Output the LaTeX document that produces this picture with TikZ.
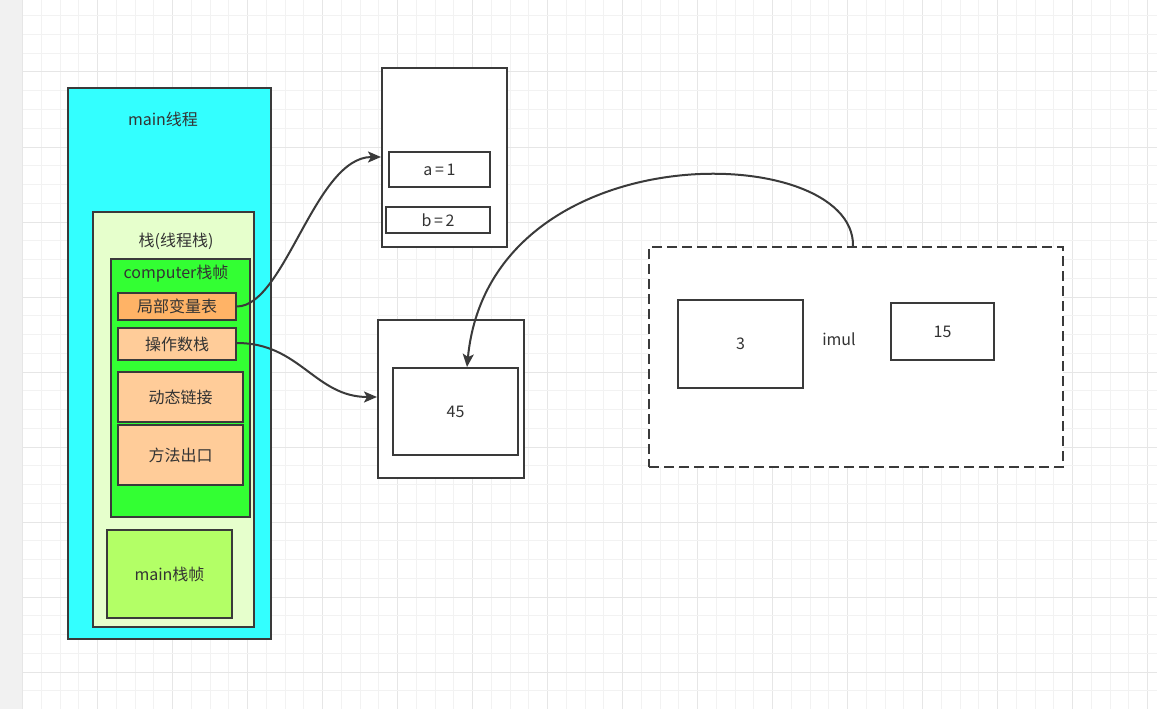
\documentclass[tikz,border=0pt]{standalone}
\usepackage{fontspec}
\setmainfont{Noto Sans CJK SC}
\usetikzlibrary{arrows.meta}
\definecolor{edge}{HTML}{3A3A3A}
\definecolor{txt}{HTML}{333333}
\definecolor{cyanf}{HTML}{33FFFF}
\definecolor{stackf}{HTML}{E6FFCC}
\definecolor{framef}{HTML}{33FF33}
\definecolor{lvf}{HTML}{FFB366}
\definecolor{oranf}{HTML}{FFCC99}
\definecolor{mainf}{HTML}{B3FF66}
\definecolor{gridmin}{HTML}{F2F2F2}
\definecolor{gridmaj}{HTML}{E6E6E6}
\definecolor{strip}{HTML}{F1F1F1}
\tikzset{
  x=1pt, y=-1pt,
  box/.style={draw=edge, line width=2pt, anchor=north west, inner sep=0pt, text=txt,
    font=\fontsize{16}{18}\selectfont},
  lbl/.style={text=txt, inner sep=0pt, font=\fontsize{16}{18}\selectfont},
  arr/.style={draw=edge, line width=2pt, -{Stealth[length=13pt,width=11pt,inset=3pt]}},
  gmin/.style={draw=gridmin, line width=1pt},
  gmaj/.style={draw=gridmaj, line width=1pt},
}
\newcommand{\bx}[6]{\node[box,#1,minimum width=#4pt,minimum height=#5pt] (#2) at (#3) {#6};}
\begin{document}
\begin{tikzpicture}
\useasboundingbox (0,0) rectangle (1157,709);
\fill[white] (0,0) rectangle (1157,709);
\fill[strip] (0,0) rectangle (22.7,709);
% grid
\foreach \i in {1,...,61} {
  \pgfmathtruncatemacro{\m}{mod(\i,4)}
  \ifnum\m=0 \draw[gmaj] ({22.7+18.75*\i},0) -- ({22.7+18.75*\i},709);
  \else \draw[gmin] ({22.7+18.75*\i},0) -- ({22.7+18.75*\i},709); \fi
}
\draw[gmaj] (22.7,0) -- (22.7,709);
\foreach \i in {1,...,38} {
  \pgfmathtruncatemacro{\m}{mod(\i,4)}
  \ifnum\m=0 \draw[gmaj] (22.7,{-3+18.75*\i}) -- (1157,{-3+18.75*\i});
  \else \draw[gmin] (22.7,{-3+18.75*\i}) -- (1157,{-3+18.75*\i}); \fi
}
% left column
\bx{fill=cyanf}{mainth}{67,87}{203}{551}{}
\node[lbl] (mainthl) at (163,119) {main线程};
\bx{fill=stackf}{stack}{92,211}{161}{415}{}
\node[lbl] (stackl) at (176,241) {栈(线程栈)};
\bx{fill=framef}{comp}{110,258}{139}{258}{}
\node[lbl] (compl) at (176,274) {computer栈帧};
\bx{fill=lvf}{lv}{117,292}{118}{27}{局部变量表}
\bx{fill=oranf}{ops}{117,327}{118}{32}{操作数栈}
\bx{fill=oranf}{dyn}{117,371}{125}{50}{动态链接}
\bx{fill=oranf}{ret}{117,424}{125}{60}{方法出口}
\bx{fill=mainf}{mframe}{106,529}{125}{88}{main栈帧}
% middle
\bx{fill=white}{vars}{381,67}{125}{179}{}
\bx{fill=white}{a}{388,151}{101}{35}{a\,=\,1}
\bx{fill=white}{b}{385,206}{104}{26}{b\,=\,2}
\bx{fill=white}{opst}{377,319}{146}{158}{}
\bx{fill=white}{v45}{392,367}{125}{87}{45}
% right
\bx{fill=white,dash pattern=on 10pt off 5pt}{calc}{648,246}{414}{220}{}
\bx{fill=white}{v3}{677,299}{125}{88}{3}
\node[lbl] (imul) at (839,339) {imul};
\bx{fill=white}{v15}{890,302}{103}{57}{15}
% connectors
\coordinate (t1) at (vars.west |- 0,157);
\coordinate (t2) at (opst.west |- 0,397);
\coordinate (s3) at (calc.north -| 853,0);
\draw[arr] (lv.east) .. controls (285,306) and (315,157) .. (t1);
\draw[arr] (ops.east |- 0,343) .. controls (300,343) and (315,397) .. (t2);
\draw[arr] (s3) .. controls (855,140) and (490,130) .. (v45.north -| 467,0);
\end{tikzpicture}
\end{document}
